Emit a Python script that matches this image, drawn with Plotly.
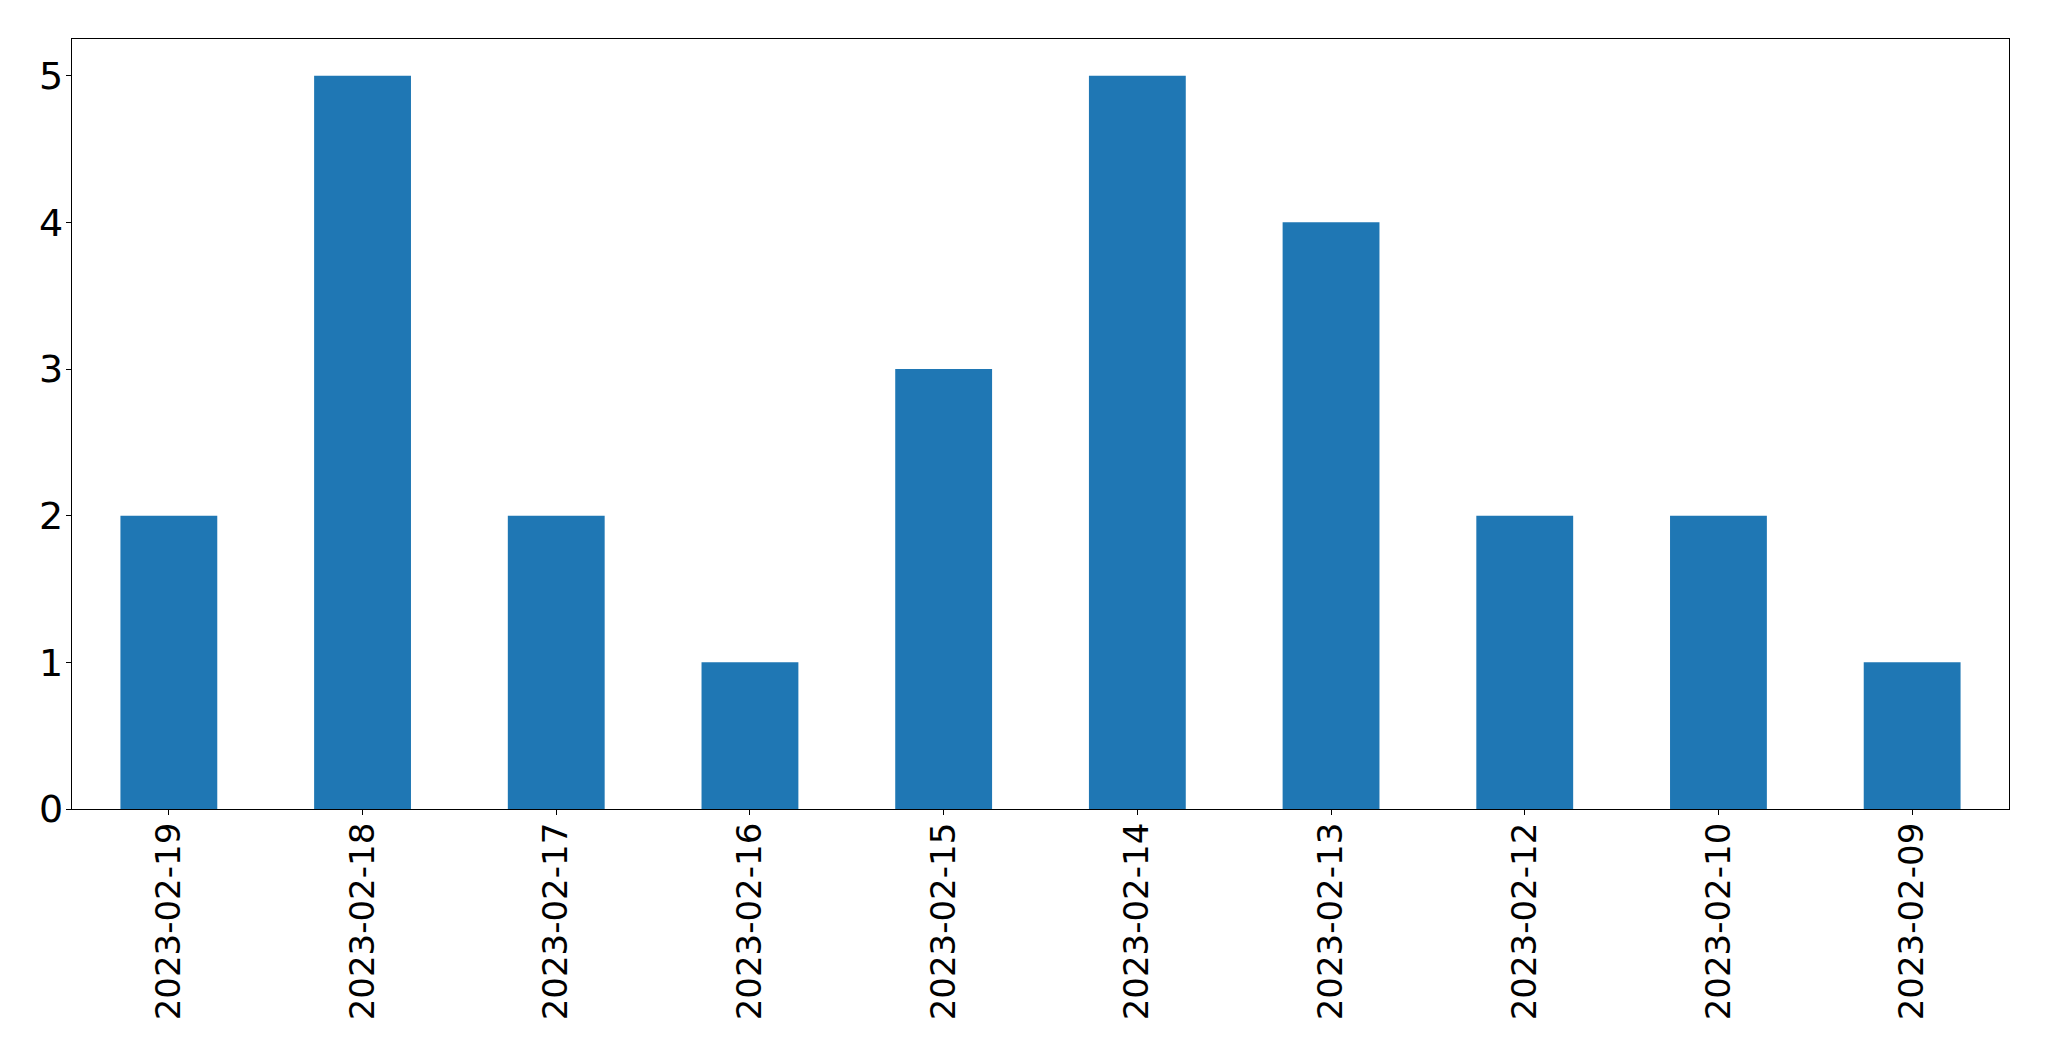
import plotly.graph_objects as go

dates = ["2023-02-19", "2023-02-18", "2023-02-17", "2023-02-16", "2023-02-15",
         "2023-02-14", "2023-02-13", "2023-02-12", "2023-02-10", "2023-02-09"]
counts = [2, 5, 2, 1, 3, 5, 4, 2, 2, 1]
y_ticks = [0, 1, 2, 3, 4, 5]

fig = go.Figure(go.Bar(x=dates, y=counts, marker_color="#1f77b4",
                       marker_line_width=0, width=0.5))

axis_common = dict(showline=True, linecolor="black", linewidth=1.3, mirror=True,
                   ticks="outside", ticklen=5, tickwidth=1.3, tickcolor="black",
                   showgrid=False, zeroline=False, automargin=False)

fig.update_xaxes(type="category", range=[-0.5, 9.5], tickangle=-90,
                 ticklabelstandoff=-6,
                 tickfont=dict(family="DejaVu Sans", size=34, color="black"),
                 **axis_common)
fig.update_yaxes(range=[0, 5.25], tickvals=y_ticks, ticklabelstandoff=-5,
                 tickfont=dict(family="DejaVu Sans", size=38, color="black"),
                 **axis_common)

# page body has an 8px default margin, so the figure is offset by 8px
fig.update_layout(width=2041, height=1053, plot_bgcolor="white", paper_bgcolor="white",
                  margin=dict(l=64, r=40, t=31, b=252), showlegend=False,
                  bargap=0.5)

fig.write_html("out.html")
